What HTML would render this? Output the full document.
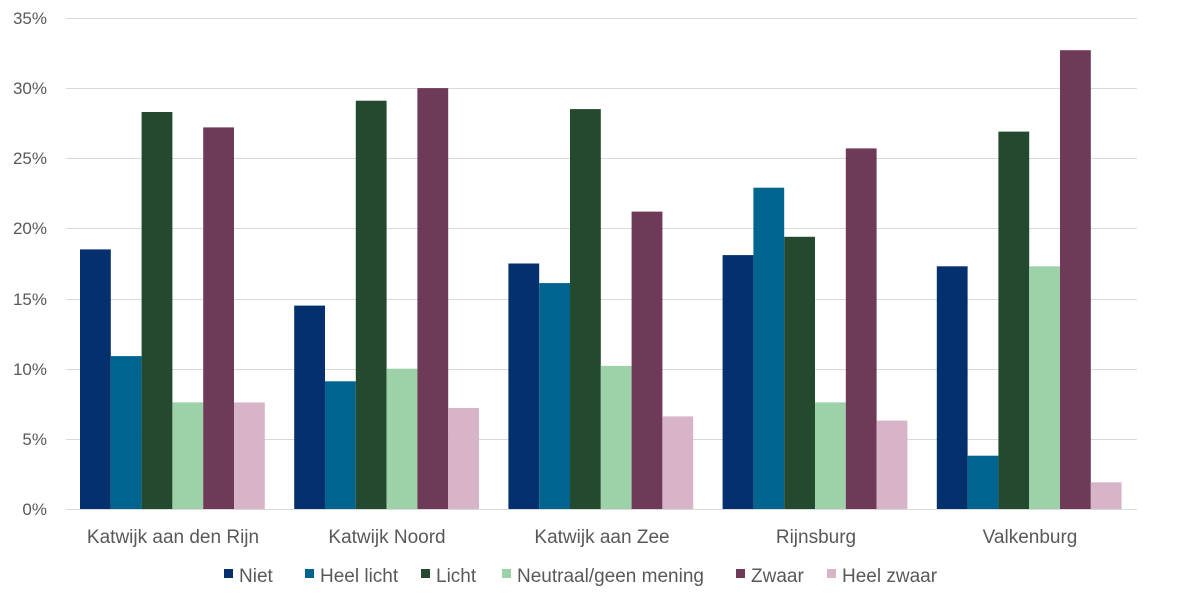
<!DOCTYPE html>
<html><head><meta charset="utf-8"><style>
body{margin:0;background:#fff;}
text{font-family:"Liberation Sans",sans-serif;fill:#595959;}
</style></head><body>
<svg width="1178" height="588" xmlns="http://www.w3.org/2000/svg">
<g stroke="#d9d9d9" stroke-width="1">
<line x1="66" x2="1137" y1="18.5" y2="18.5"/>
<line x1="66" x2="1137" y1="88.5" y2="88.5"/>
<line x1="66" x2="1137" y1="158.5" y2="158.5"/>
<line x1="66" x2="1137" y1="228.5" y2="228.5"/>
<line x1="66" x2="1137" y1="299.5" y2="299.5"/>
<line x1="66" x2="1137" y1="369.5" y2="369.5"/>
<line x1="66" x2="1137" y1="439.5" y2="439.5"/>
</g>
<g font-size="17" text-anchor="end">
<text x="47" y="24">35%</text><text x="47" y="94">30%</text><text x="47" y="164">25%</text>
<text x="47" y="234">20%</text><text x="47" y="305">15%</text><text x="47" y="375">10%</text>
<text x="47" y="445">5%</text><text x="47" y="515">0%</text>
</g>
<g>
<rect x="80" y="249.4" width="30.8" height="259.6" fill="#05306e"/>
<rect x="110.8" y="356.1" width="30.8" height="152.9" fill="#00648f"/>
<rect x="141.6" y="112" width="30.8" height="397" fill="#234a2f"/>
<rect x="172.4" y="402.4" width="30.8" height="106.6" fill="#9dd1a8"/>
<rect x="203.2" y="127.4" width="30.8" height="381.6" fill="#6e3a57"/>
<rect x="234" y="402.4" width="30.8" height="106.6" fill="#d7b4c8"/>

<rect x="294.2" y="305.6" width="30.8" height="203.4" fill="#05306e"/>
<rect x="325" y="381.3" width="30.8" height="127.7" fill="#00648f"/>
<rect x="355.8" y="100.7" width="30.8" height="408.3" fill="#234a2f"/>
<rect x="386.6" y="368.7" width="30.8" height="140.3" fill="#9dd1a8"/>
<rect x="417.4" y="88.1" width="30.8" height="420.9" fill="#6e3a57"/>
<rect x="448.2" y="408" width="30.8" height="101" fill="#d7b4c8"/>

<rect x="508.4" y="263.5" width="30.8" height="245.5" fill="#05306e"/>
<rect x="539.2" y="283.1" width="30.8" height="225.9" fill="#00648f"/>
<rect x="570" y="109.1" width="30.8" height="399.9" fill="#234a2f"/>
<rect x="600.8" y="365.9" width="30.8" height="143.1" fill="#9dd1a8"/>
<rect x="631.6" y="211.6" width="30.8" height="297.4" fill="#6e3a57"/>
<rect x="662.4" y="416.4" width="30.8" height="92.6" fill="#d7b4c8"/>

<rect x="722.6" y="255.1" width="30.8" height="253.9" fill="#05306e"/>
<rect x="753.4" y="187.7" width="30.8" height="321.3" fill="#00648f"/>
<rect x="784.2" y="236.8" width="30.8" height="272.2" fill="#234a2f"/>
<rect x="815" y="402.4" width="30.8" height="106.6" fill="#9dd1a8"/>
<rect x="845.8" y="148.4" width="30.8" height="360.6" fill="#6e3a57"/>
<rect x="876.6" y="420.6" width="30.8" height="88.4" fill="#d7b4c8"/>

<rect x="936.8" y="266.3" width="30.8" height="242.7" fill="#05306e"/>
<rect x="967.6" y="455.7" width="30.8" height="53.3" fill="#00648f"/>
<rect x="998.4" y="131.6" width="30.8" height="377.4" fill="#234a2f"/>
<rect x="1029.2" y="266.3" width="30.8" height="242.7" fill="#9dd1a8"/>
<rect x="1060" y="50.2" width="30.8" height="458.8" fill="#6e3a57"/>
<rect x="1090.8" y="482.3" width="30.8" height="26.7" fill="#d7b4c8"/>
</g>
<line x1="66" x2="1137" y1="509.5" y2="509.5" stroke="#d9d9d9"/>
<g font-size="19" text-anchor="middle">
<text x="173" y="543">Katwijk aan den Rijn</text>
<text x="387" y="543">Katwijk Noord</text>
<text x="602" y="543">Katwijk aan Zee</text>
<text x="816" y="543">Rijnsburg</text>
<text x="1030" y="543">Valkenburg</text>
</g>
<g font-size="19">
<rect x="224" y="569" width="9" height="9" fill="#05306e"/><text x="239" y="582">Niet</text>
<rect x="305" y="569" width="9" height="9" fill="#00648f"/><text x="320" y="582">Heel licht</text>
<rect x="421" y="569" width="9" height="9" fill="#234a2f"/><text x="436" y="582">Licht</text>
<rect x="502" y="569" width="9" height="9" fill="#9dd1a8"/><text x="517" y="582">Neutraal/geen mening</text>
<rect x="736" y="569" width="9" height="9" fill="#6e3a57"/><text x="751" y="582">Zwaar</text>
<rect x="827" y="569" width="9" height="9" fill="#d7b4c8"/><text x="842" y="582">Heel zwaar</text>
</g>
</svg>
</body></html>
